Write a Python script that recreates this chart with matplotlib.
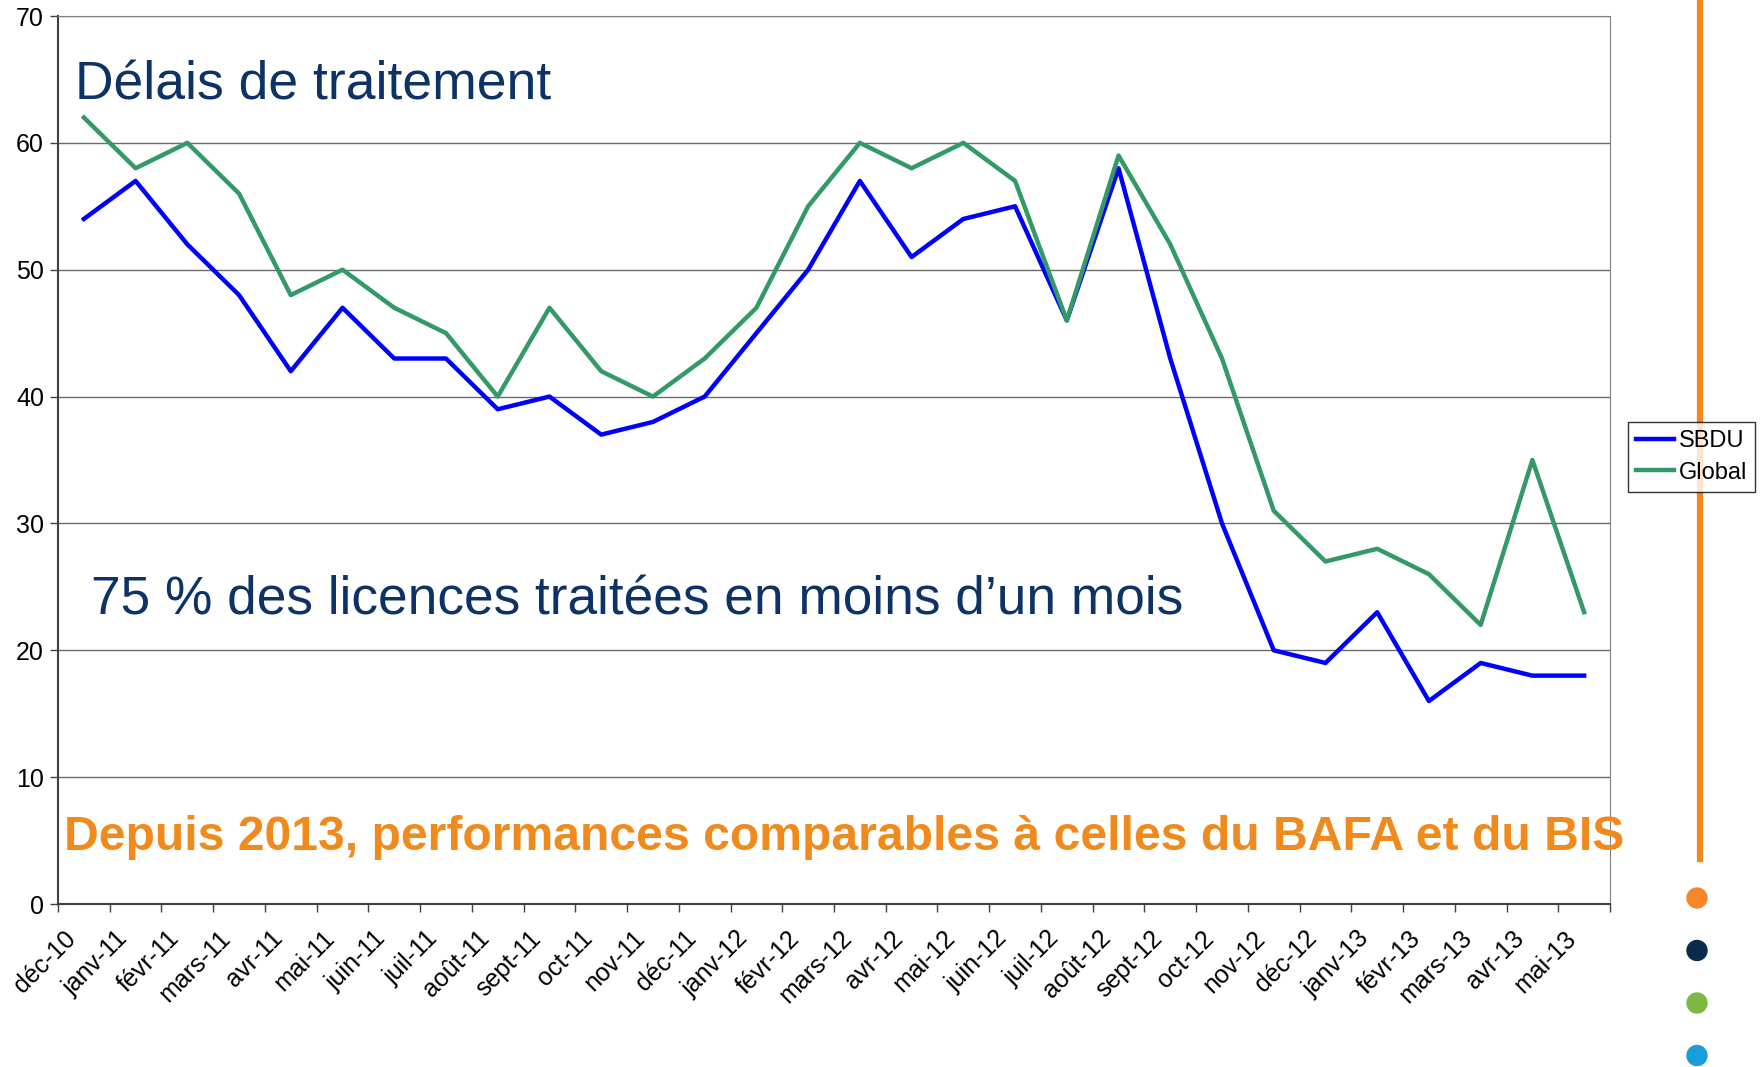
import matplotlib
matplotlib.use("Agg")
import matplotlib.pyplot as plt
from matplotlib.lines import Line2D
from matplotlib.patches import Ellipse
from matplotlib.transforms import ScaledTranslation

plt.rcParams['font.family'] = ['Liberation Sans', 'DejaVu Sans']

mois = ["déc-10", "janv-11", "févr-11", "mars-11", "avr-11", "mai-11", "juin-11",
        "juil-11", "août-11", "sept-11", "oct-11", "nov-11", "déc-11", "janv-12",
        "févr-12", "mars-12", "avr-12", "mai-12", "juin-12", "juil-12", "août-12",
        "sept-12", "oct-12", "nov-12", "déc-12", "janv-13", "févr-13", "mars-13",
        "avr-13", "mai-13"]
sbdu = [54, 57, 52, 48, 42, 47, 43, 43, 39, 40, 37, 38, 40, 45, 50, 57, 51, 54, 55,
        46, 58, 43, 30, 20, 19, 23, 16, 19, 18, 18]
global_ = [62, 58, 60, 56, 48, 50, 47, 45, 40, 47, 42, 40, 43, 47, 55, 60, 58, 60, 57,
           46, 59, 52, 43, 31, 27, 28, 26, 22, 35, 23]
dot_colors = ["#F5872A", "#0C2A4E", "#7DB843", "#1A9CDB"]

W, H = 1760, 1067
fig = plt.figure(figsize=(W/100, H/100), dpi=100)
ax = fig.add_axes([58/W, 1-904/H, (1610-58)/W, (904-16)/H])

x = list(range(len(mois)))
ax.plot(x, sbdu, color="#0000FF", lw=3.2, label="SBDU", zorder=3)
ax.plot(x, global_, color="#339966", lw=3.2, label="Global", zorder=3)

ax.set_xlim(-0.5, len(mois)-0.5)
ax.set_ylim(0, 70)
ax.set_yticks(range(0, 71, 10))
ax.tick_params(axis='y', labelsize=18, length=6, width=1, color="#404040", pad=4)
ax.yaxis.grid(True, color="#6a6a6a", lw=1)
ax.set_axisbelow(True)

ax.set_xticks(x)
ax.set_xticklabels(mois, rotation=45, ha='right', va='center', rotation_mode='anchor',
                   fontsize=18)
ax.tick_params(axis='x', length=0, pad=22)
offset = ScaledTranslation(-12/100, 0, fig.dpi_scale_trans)
for lab in ax.get_xticklabels():
    lab.set_transform(lab.get_transform() + offset)
ax.set_xticks([i - 0.5 for i in range(len(mois)+1)], minor=True)
ax.tick_params(axis='x', which='minor', length=6, width=1, color="#404040")

for s in ['top', 'right']:
    ax.spines[s].set_color("#808080")
for s in ['left', 'bottom']:
    ax.spines[s].set_color("#404040")
    ax.spines[s].set_linewidth(1.5)

ax.text(0.011, 0.922, "Délais de traitement", transform=ax.transAxes, fontsize=38.5,
        color="#0C3266", va='center')
ax.text(0.021, 0.342, "75 % des licences traitées en moins d\u2019un mois", transform=ax.transAxes,
        fontsize=38.3, color="#0C3266", va='center')
ax.text(0.004, 0.075, "Depuis 2013, performances comparables à celles du BAFA et du BIS",
        transform=ax.transAxes, fontsize=34.7, fontweight='bold', color="#F08A1C",
        va='center', clip_on=False)

leg = fig.legend(loc='upper left', bbox_to_anchor=(1628/W, 1-422/H), fontsize=17,
                 frameon=True, fancybox=False, edgecolor="black", handlelength=1.6,
                 handletextpad=0.2, borderpad=0.35, labelspacing=0.4, borderaxespad=0)
leg.get_frame().set_linewidth(1)

fig.add_artist(Line2D([1700/W, 1700/W], [1.0, 1-859/H], color="#F08A1C", lw=4.5,
                      transform=fig.transFigure))
for i, c in enumerate(dot_colors):
    yy = 898 + i*52.5
    fig.add_artist(Ellipse((1697/W, 1-yy/H), 20/W, 20/H, color=c,
                           transform=fig.transFigure))

fig.savefig("out.png", dpi=100)
